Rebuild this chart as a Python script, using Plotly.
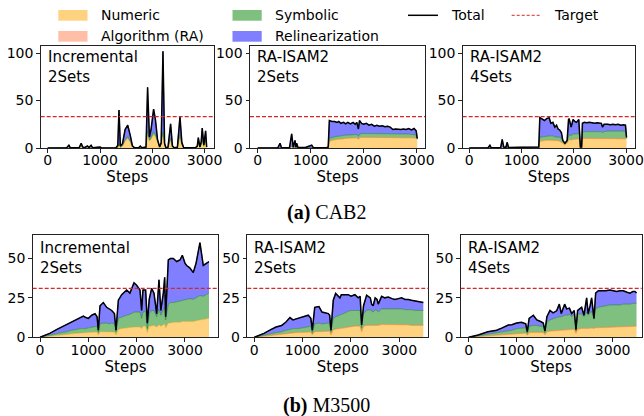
import plotly.graph_objects as go

W, H = 644, 416

# ---------------- CAB2 : Incremental 2Sets ----------------
cab2_inc_steps = [0, 350, 385, 405, 430, 600, 640, 670, 700, 760, 790, 830, 860, 1000, 1030,
                  1300, 1340, 1363, 1390, 1430, 1480, 1530, 1580, 1620, 1660, 1740, 1770, 1800,
                  1880, 1910, 1945, 1975, 2025, 2060, 2100, 2140, 2170, 2204, 2235, 2260, 2300,
                  2350, 2385, 2420, 2480, 2529, 2565, 2600, 2820, 2860, 2880, 2910, 2935, 2955,
                  2985, 3020, 3040]
cab2_inc_numeric = [0, 0, 0.5, 1, 0, 0, 1.5, 0.5, 0, 0.8, 0, 1, 0, 0.3, 0,
                    0, 0.5, 4, 0.5, 2, 7, 10, 6, 1, 0, 0, 0.8, 0,
                    0.5, 15, 7, 9, 14, 12, 6, 0.5, 4, 15, 3, 0, 0.3,
                    9, 1, 0, 0.3, 12, 3, 0, 0, 0.8, 5, 0.5, 3, 8,
                    1.5, 7, 0.5]
cab2_inc_symbolic = [0, 0, 0, 0.3, 0, 0, 0.5, 0, 0, 0.2, 0, 0.3, 0, 0, 0,
                     0, 0.2, 1, 0.2, 0.5, 1.5, 2, 1, 0.3, 0, 0, 0.2, 0,
                     0, 3, 1.5, 2, 3, 2, 1, 0.2, 0.5, 2, 0.5, 0, 0,
                     1, 0.2, 0, 0, 2, 0.5, 0, 0, 0.2, 0.5, 0, 0.5, 1,
                     0.3, 1, 0]
cab2_inc_relin = [0, 0, 1, 2, 0.3, 0.2, 3, 0.5, 0.3, 1.2, 0.4, 1.5, 0.2, 0.8, 0,
                  0, 2, 35, 1.5, 2, 11, 12, 6, 1, 0.3, 0.3, 1, 0.2,
                  0.5, 46, 3, 8, 24, 16, 2, 0.5, 1, 85, 1.5, 0.3, 0.5,
                  15.5, 1, 0.2, 0.5, 19, 2.5, 0.3, 0.3, 1, 5.5, 0.8, 3, 12,
                  1.5, 10, 0.5]

# ---------------- CAB2 : RA-ISAM2 2Sets ----------------
cab2_ra2_steps = [0, 380, 421, 450, 600, 641, 670, 704, 720, 735, 760, 900, 1019, 1050, 1300,
                  1330, 1352, 1400, 1450, 1500, 1530, 1570, 1620, 1660, 1700, 1750, 1800, 1840,
                  1870, 1900, 1920, 1960, 2000, 2050, 2100, 2150, 2200, 2250, 2300, 2350, 2400,
                  2450, 2500, 2550, 2600, 2650, 2700, 2750, 2800, 2850, 2900, 2950, 2990, 3010]
cab2_ra2_numeric = [0, 0, 0.5, 0, 0, 1.5, 0.2, 1, 0.2, 0.5, 0, 0, 0.5, 0, 0,
                    0.2, 7, 8, 8.5, 9, 9, 9.5, 9.5, 10, 10, 10, 10.5, 10.5,
                    10.5, 9, 10.5, 11, 11, 11, 11, 11, 11, 11, 11, 11, 11,
                    11, 11, 10.5, 10.5, 10.5, 10.5, 10.5, 10.5, 10.5, 10.5, 10.5, 10, 9.5]
cab2_ra2_algorithm = [0, 0, 0, 0, 0, 0.3, 0, 0, 0, 0, 0, 0, 0, 0, 0,
                      0, 0.3, 0.3, 0.3, 0.3, 0.3, 0.3, 0.3, 0.3, 0.3, 0.3, 0.3, 0.3,
                      0.3, 0.3, 0.3, 0.3, 0.3, 0.3, 0.3, 0.3, 0.3, 0.3, 0.3, 0.3, 0.3,
                      0.3, 0.3, 0.3, 0.3, 0.3, 0.3, 0.3, 0.3, 0.3, 0.3, 0.3, 0.3, 0.3]
cab2_ra2_symbolic = [0, 0, 0.2, 0, 0, 0.5, 0, 0.3, 0, 0.2, 0, 0, 0, 0, 0,
                     0, 3, 3, 3, 3, 3, 3, 3.5, 3.5, 3.5, 3.5, 3.5, 3.5,
                     3.5, 3, 3.5, 4, 4, 4, 4, 4, 4, 4, 4, 4, 4,
                     4, 4, 4, 4, 4, 4, 4, 4, 4, 3.5, 3.5, 3.5, 0]
cab2_ra2_relin = [0, 0.3, 4.3, 0.3, 0.3, 12.7, 0.8, 6.7, 0.8, 4.3, 0.5, 0.5, 2.5, 0.3, 0.3,
                  0.8, 18.7, 16.7, 16.2, 14.7, 15.7, 13.2, 13.7, 11.7, 13.2, 11.7, 12.7, 10.7,
                  12.7, 7.7, 14.7, 10.7, 9.7, 10.7, 8.7, 9.7, 7.7, 8.7, 7.7, 8.2, 7.2,
                  7.7, 6.7, 4.7, 5.2, 4.7, 4.7, 5.2, 4.7, 5.7, 4.7, 6.2, 4.2, 0.2]

# ---------------- CAB2 : RA-ISAM2 4Sets ----------------
cab2_ra4_steps = [0, 360, 395, 420, 600, 630, 660, 700, 726, 750, 1000, 1300, 1330, 1350, 1400,
                  1440, 1480, 1529, 1560, 1600, 1637, 1670, 1700, 1730, 1764, 1790, 1830, 1873,
                  1900, 1911, 1950, 1987, 2020, 2051, 2096, 2115, 2127, 2150, 2166, 2200, 2250,
                  2300, 2350, 2400, 2450, 2500, 2529, 2550, 2580, 2650, 2700, 2750, 2800, 2850,
                  2900, 2950, 2990, 3010]
cab2_ra4_numeric = [0, 0, 0.3, 0, 0, 1, 0.2, 0, 0.5, 0, 0, 0, 0.2, 7, 7.5,
                    8, 8, 8, 8, 8, 7.5, 7.5, 7.5, 7, 6, 5, 3.5, 5,
                    9, 9, 8, 9, 9, 9, 9.5, 8, 0.5, 0.5, 9.5, 10, 10,
                    10, 10, 10, 10, 10, 10, 9.5, 10, 10, 10, 10, 10, 10,
                    10, 10, 10, 9.5]
cab2_ra4_algorithm = [0, 0, 0, 0, 0, 0.3, 0, 0, 0, 0, 0, 0, 0, 0.3, 0.3,
                      0.3, 0.3, 0.3, 0.3, 0.3, 0.3, 0.3, 0.3, 0.3, 0.3, 0.3, 0.3, 0.3,
                      0.3, 0.3, 0.3, 0.3, 0.3, 0.3, 0.3, 0.3, 0, 0, 0.3, 0.3, 0.3,
                      0.3, 0.3, 0.3, 0.3, 0.3, 0.3, 0.3, 0.3, 0.3, 0.3, 0.3, 0.3, 0.3,
                      0.3, 0.3, 0.3, 0.3]
cab2_ra4_symbolic = [0, 0, 0, 0, 0, 0.5, 0, 0, 0.3, 0, 0, 0, 0, 4, 4,
                     4, 4.5, 4.5, 4.5, 4.5, 4, 4, 4, 4, 3.5, 2, 1, 2,
                     5, 5, 4.5, 5.5, 5.5, 5.5, 5.5, 3, 0.2, 0.2, 6.5, 7, 7,
                     7, 7, 7, 7, 7, 7, 6.5, 7, 7.5, 7.5, 7.5, 7.5, 7.5,
                     7.5, 7.5, 7.5, 1]
cab2_ra4_relin = [0, 0.3, 2.7, 0.3, 0.3, 7.2, 0.8, 0.5, 5.2, 0.5, 0.8, 0.3, 0.8, 20.7, 18.2,
                  16.7, 18.2, 19.2, 13.2, 14.2, 10.2, 12.2, 8.2, 7.7, 6.2, 0.7, 0.2, 0.7,
                  15.7, 16.7, 9.2, 15.2, 13.2, 12.2, 14.7, 3.7, 0.3, 0.3, 9.7, 9.7, 9.2,
                  9.7, 9.2, 8.7, 9.2, 8.7, 8.7, 5.7, 7.7, 7.2, 6.7, 7.2, 6.7, 7.2,
                  6.2, 6.7, 6.2, 0.2]

# ---------------- M3500 : Incremental 2Sets ----------------
m3500_inc_steps = [0, 200, 350, 450, 552, 650, 759, 820, 897, 950, 1000, 1069, 1138, 1180, 1207,
                   1241, 1310, 1379, 1430, 1483, 1540, 1572, 1621, 1690, 1793, 1860, 1945, 2000,
                   2069, 2103, 2130, 2186, 2221, 2260, 2310, 2359, 2414, 2462, 2500, 2552, 2580,
                   2600, 2655, 2700, 2759, 2828, 2897, 2945, 3000, 3034, 3100, 3172, 3230, 3310,
                   3379, 3448, 3497]
m3500_inc_numeric = [0, 0.5, 1, 1.3, 1.8, 2.2, 2.5, 2.8, 3, 3, 3, 3.2, 3.3, 3.3, 1.5,
                     3.5, 3.5, 3.5, 3.5, 3.5, 3.3, 1.5, 5, 5.5, 6, 6, 6.5, 6.5,
                     6.5, 5.5, 7, 7, 3, 7, 7.5, 7.5, 6.5, 8, 7, 8, 8.5,
                     6, 9, 9, 9.5, 9.5, 9.5, 10, 10, 10, 10, 10, 10.5, 11,
                     11, 11.5, 12]
m3500_inc_symbolic = [0, 1, 1.5, 1.7, 1.7, 2.3, 2.5, 2.7, 2.5, 2.5, 3, 3.3, 3.7, 3.7, 1.5,
                      5, 5.5, 5.5, 5, 5.5, 5.2, 2, 7, 7.5, 8, 8.5, 9.5, 9.5,
                      9.5, 6.5, 9, 9.5, 2.5, 8, 9.5, 9.5, 6.5, 10, 7, 9.5, 10.5,
                      5, 12, 13, 12.5, 13, 13.5, 13.5, 13.5, 14, 14.5, 14, 14.5, 15.5,
                      15, 15.5, 16]
m3500_inc_relin = [0, 1, 2.5, 3.5, 4.5, 5.5, 6.5, 7, 8, 7, 6, 7.5, 8, 6, 1.5,
                   11.5, 13, 10, 9.5, 8, 6.5, 1, 11.5, 14, 16, 13.5, 18.5, 17,
                   14, 5, 14, 13.5, 3.5, 9, 14, 11, 2, 18.5, 3, 10.5, 19,
                   2, 28, 28, 28, 25.5, 26, 28.5, 23.5, 21.5, 19.5, 17, 22, 33.5,
                   19.5, 20, 20]

# ---------------- M3500 : RA-ISAM2 2Sets ----------------
m3500_ra2_steps = [0, 200, 350, 450, 565, 650, 738, 800, 900, 1000, 1117, 1170, 1200, 1250, 1338,
                   1400, 1531, 1560, 1586, 1634, 1683, 1772, 1800, 1880, 1945, 2000, 2082, 2150,
                   2190, 2220, 2260, 2324, 2400, 2428, 2460, 2500, 2540, 2565, 2634, 2700, 2772,
                   2850, 2910, 2980, 3048, 3120, 3186, 3250, 3324, 3400, 3497]
m3500_ra2_numeric = [0, 0.5, 1, 1.3, 1.8, 2.2, 2.5, 2.8, 3, 3, 3.3, 3.3, 1.5, 3.5, 3.5,
                     3.5, 3.8, 3.8, 1.5, 4.8, 5, 5.5, 5.8, 6, 6.5, 6.5, 7, 7,
                     7, 3.5, 7, 7.5, 7.5, 7.5, 7.5, 7.5, 7.5, 7.5, 8, 8, 8,
                     8, 8, 8, 7.8, 7.8, 7.8, 7.5, 7.5, 7.5, 7.5]
m3500_ra2_algorithm = [0, 0.2, 0.2, 0.2, 0.2, 0.2, 0.2, 0.2, 0.2, 0.2, 0.2, 0.2, 0.2, 0.2, 0.2,
                       0.2, 0.2, 0.2, 0.2, 0.2, 0.2, 0.2, 0.2, 0.2, 0.2, 0.2, 0.2, 0.2,
                       0.2, 0.2, 0.2, 0.2, 0.2, 0.2, 0.2, 0.2, 0.2, 0.2, 0.2, 0.2, 0.2,
                       0.2, 0.2, 0.2, 0.2, 0.2, 0.2, 0.2, 0.2, 0.2, 0.2]
m3500_ra2_symbolic = [0, 0.8, 1.3, 1.5, 1.5, 2.1, 2.3, 2.5, 2.3, 2.8, 3.5, 3.5, 1.3, 4.8, 5.3,
                      4.8, 5, 4.5, 1.8, 7, 7.8, 8.3, 8.5, 9.3, 9.8, 10.3, 9.8, 9.8,
                      9.8, 2.3, 7.8, 9.3, 9.8, 8.8, 8.3, 9.8, 9.3, 8.3, 9.8, 9.8, 9.8,
                      9.8, 9.8, 9.8, 10, 9.5, 9.5, 9.8, 9.3, 9.3, 9.3]
m3500_ra2_relin = [0, 1, 2.5, 3.5, 4, 5, 7.5, 5.5, 6.5, 7, 7, 5, 1.5, 10.5, 10.5,
                   7.5, 6, 5.5, 1, 11.5, 14.8, 11, 12.5, 11.5, 10.5, 9, 10, 8,
                   9, 1.8, 5, 9.7, 7.5, 4.5, 4, 7.5, 7, 5, 8, 7, 7.5,
                   6.5, 6, 6.5, 7, 6.5, 6.5, 6, 6, 5.5, 5]

# ---------------- M3500 : RA-ISAM2 4Sets ----------------
m3500_ra4_steps = [0, 200, 400, 583, 700, 826, 900, 1000, 1100, 1190, 1222, 1260, 1347, 1420, 1500,
                   1555, 1590, 1630, 1694, 1760, 1833, 1889, 1930, 2000, 2042, 2100, 2146, 2200,
                   2236, 2270, 2354, 2403, 2458, 2490, 2530, 2562, 2611, 2646, 2701, 2780, 2850,
                   2944, 3020, 3083, 3150, 3222, 3300, 3361, 3420, 3465, 3497]
m3500_ra4_numeric = [0, 0.3, 0.8, 1.2, 1.5, 1.8, 2, 2.5, 2.6, 2.6, 1.2, 2.8, 3, 3, 3,
                     3, 1.5, 3.5, 3.8, 4, 4.2, 4.3, 4.3, 4.5, 4.5, 4.8, 4.8, 5,
                     2.5, 5, 5.5, 5.3, 5.5, 5.5, 5.8, 5.8, 5.5, 6, 6, 6, 6.2,
                     6.3, 6.3, 6.5, 6.5, 6.5, 6.5, 6.5, 6.8, 7, 7]
m3500_ra4_algorithm = [0, 0.2, 0.2, 0.2, 0.2, 0.2, 0.2, 0.2, 0.2, 0.2, 0.2, 0.2, 0.2, 0.2, 0.2,
                       0.2, 0.2, 0.2, 0.2, 0.2, 0.2, 0.2, 0.2, 0.2, 0.2, 0.2, 0.2, 0.2,
                       0.2, 0.2, 0.2, 0.2, 0.2, 0.2, 0.2, 0.2, 0.2, 0.2, 0.2, 0.2, 0.2,
                       0.2, 0.2, 0.2, 0.2, 0.2, 0.2, 0.2, 0.2, 0.2, 0.2]
m3500_ra4_symbolic = [0, 0.5, 1, 1.1, 1.8, 2, 2.3, 2.8, 3.2, 3.2, 1.1, 4, 4.3, 4.3, 3.8,
                      3.8, 1.3, 5.8, 7, 7.3, 8.1, 8.5, 8.5, 9.3, 9.3, 9.5, 8, 9.3,
                      1.3, 9.3, 9.3, 7.5, 10.3, 8.3, 9.5, 10.5, 5.8, 11.8, 12.8, 13.3, 13.6,
                      14, 14, 13.8, 13.8, 14.3, 14.3, 14.3, 14.5, 14.3, 14.3]
m3500_ra4_relin = [0, 0.5, 1.5, 2, 2.5, 3.8, 3.5, 3.5, 3.5, 2.5, 1.1, 5, 6.5, 3.5, 3,
                   2, 1, 3.5, 6, 4, 4.3, 8, 2, 7, 4, 4, 2, 2.5,
                   1, 2.5, 4, 1, 9, 1, 4.5, 8.5, 0.5, 10, 10.5, 10, 9.5,
                   9.5, 9, 8.5, 9, 8.5, 7.5, 7, 7.5, 7.5, 6.5]

cab2_target = 33
m3500_target = 31

panel_labels = ["Incremental<br>2Sets", "RA-ISAM2<br>2Sets", "RA-ISAM2<br>4Sets"]
x_ticks = [0, 1000, 2000, 3000]
cab2_y_ticks = [0, 50, 100]
m3500_y_ticks = [0, 25, 50]
captions = ["<b>(a)</b> CAB2", "<b>(b)</b> M3500"]

# ---------------- styling ----------------
COLORS = {
    "Numeric": (255, 165, 0),
    "Algorithm (RA)": (255, 127, 80),
    "Symbolic": (0, 128, 0),
    "Relinearization": (0, 0, 255),
}
FONT = "DejaVu Sans"
TARGET_COLOR = "#d62728"


def rgba(c, a):
    return "rgba(%d,%d,%d,%s)" % (c[0], c[1], c[2], a)


def px2x(px):
    return px / W


def px2y(py):
    return 1 - py / H


panels = [
    dict(steps=cab2_inc_steps, series=[("Numeric", cab2_inc_numeric), ("Symbolic", cab2_inc_symbolic),
                                        ("Relinearization", cab2_inc_relin)],
         target=cab2_target, label=panel_labels[0], xdom=(40.7, 214), ydom=(46, 148),
         xr=(-134, 3180), yr=(0, 107.5), yt=cab2_y_ticks),
    dict(steps=cab2_ra2_steps, series=[("Numeric", cab2_ra2_numeric), ("Algorithm (RA)", cab2_ra2_algorithm),
                                        ("Symbolic", cab2_ra2_symbolic), ("Relinearization", cab2_ra2_relin)],
         target=cab2_target, label=panel_labels[1], xdom=(250, 425), ydom=(46, 148),
         xr=(-145, 3156), yr=(0, 107.5), yt=cab2_y_ticks),
    dict(steps=cab2_ra4_steps, series=[("Numeric", cab2_ra4_numeric), ("Algorithm (RA)", cab2_ra4_algorithm),
                                        ("Symbolic", cab2_ra4_symbolic), ("Relinearization", cab2_ra4_relin)],
         target=cab2_target, label=panel_labels[2], xdom=(462.7, 635), ydom=(46, 148),
         xr=(-126, 3172), yr=(0, 107.5), yt=cab2_y_ticks),
    dict(steps=m3500_inc_steps, series=[("Numeric", m3500_inc_numeric), ("Symbolic", m3500_inc_symbolic),
                                         ("Relinearization", m3500_inc_relin)],
         target=m3500_target, label=panel_labels[0], xdom=(32.7, 218.3), ydom=(234.7, 337.3),
         xr=(-152, 3690), yr=(0, 65), yt=m3500_y_ticks),
    dict(steps=m3500_ra2_steps, series=[("Numeric", m3500_ra2_numeric), ("Algorithm (RA)", m3500_ra2_algorithm),
                                         ("Symbolic", m3500_ra2_symbolic), ("Relinearization", m3500_ra2_relin)],
         target=m3500_target, label=panel_labels[1], xdom=(247.3, 428.3), ydom=(234.7, 337.3),
         xr=(-145, 3600), yr=(0, 65), yt=m3500_y_ticks),
    dict(steps=m3500_ra4_steps, series=[("Numeric", m3500_ra4_numeric), ("Algorithm (RA)", m3500_ra4_algorithm),
                                         ("Symbolic", m3500_ra4_symbolic), ("Relinearization", m3500_ra4_relin)],
         target=m3500_target, label=panel_labels[2], xdom=(460.7, 641.7), ydom=(234.7, 337.3),
         xr=(-165, 3605), yr=(0, 65), yt=m3500_y_ticks),
]

fig = go.Figure()
layout = dict(
    width=W, height=H, margin=dict(l=0, r=0, t=0, b=0, autoexpand=False),
    paper_bgcolor="white", plot_bgcolor="white", showlegend=False,
    font=dict(family=FONT, size=14, color="black"),
)
shapes = []
annotations = []

for i, p in enumerate(panels):
    n = i + 1
    xa = "x" if n == 1 else "x%d" % n
    ya = "y" if n == 1 else "y%d" % n
    for name, vals in p["series"]:
        assert len(vals) == len(p["steps"]), (i, name)
        c = COLORS[name]
        fig.add_trace(go.Scatter(
            x=p["steps"], y=vals, name=name, mode="lines", stackgroup="s%d" % n,
            line=dict(color=rgba(c, 0.55), width=0.8), fillcolor=rgba(c, 0.5),
            xaxis=xa, yaxis=ya, hoverinfo="skip"))
    total = [sum(v[k] for _, v in p["series"]) for k in range(len(p["steps"]))]
    fig.add_trace(go.Scatter(x=p["steps"], y=total, name="Total", mode="lines",
                             line=dict(color="black", width=1.5), xaxis=xa, yaxis=ya))
    axis_common = dict(showline=True, mirror=True, linecolor="#222", linewidth=1,
                       ticks="outside", ticklen=3.5, tickwidth=0.8, tickcolor="#222",
                       showgrid=False, zeroline=False, automargin=False,
                       tickfont=dict(size=14, family=FONT))
    layout["xaxis" if n == 1 else "xaxis%d" % n] = dict(
        domain=[px2x(p["xdom"][0]), px2x(p["xdom"][1])], range=list(p["xr"]),
        tickvals=x_ticks, anchor=ya, ticklabelstandoff=-4,
        title=dict(text="Steps", font=dict(size=15, family=FONT), standoff=0), **axis_common)
    layout["yaxis" if n == 1 else "yaxis%d" % n] = dict(
        domain=[px2y(p["ydom"][1]), px2y(p["ydom"][0])], range=list(p["yr"]),
        tickvals=p["yt"], anchor=xa, **axis_common)
    shapes.append(dict(type="line", xref="%s domain" % xa, yref=ya, x0=0, x1=1,
                       y0=p["target"], y1=p["target"],
                       line=dict(color=TARGET_COLOR, width=1.2, dash="4px,2px")))
    annotations.append(dict(xref="paper", yref="paper", x=px2x(p["xdom"][0] + 5),
                            y=px2y(p["ydom"][0] + (0 if i < 3 else 2.5)),
                            xanchor="left", yanchor="top", align="left", showarrow=False,
                            text=p["label"], font=dict(size=15, family=FONT)))

# ---------------- legend (drawn manually, 4 columns) ----------------
legend_patches = [("Numeric", 58.3, 10, 20.7), ("Algorithm (RA)", 58.3, 31, 41.7),
                  ("Symbolic", 232.5, 10, 20.7), ("Relinearization", 232.5, 31, 41.7)]
for name, x0, y0, y1 in legend_patches:
    shapes.append(dict(type="rect", xref="paper", yref="paper", x0=px2x(x0), x1=px2x(x0 + 29.2),
                       y0=px2y(y1), y1=px2y(y0), fillcolor=rgba(COLORS[name], 0.5),
                       line=dict(width=0)))
    annotations.append(dict(xref="paper", yref="paper", x=px2x(x0 + 40.9), y=px2y((y0 + y1) / 2),
                            xanchor="left", yanchor="middle", showarrow=False, text=name,
                            font=dict(size=14, family=FONT)))
shapes.append(dict(type="line", xref="paper", yref="paper", x0=px2x(408), x1=px2x(438),
                   y0=px2y(15.3), y1=px2y(15.3), line=dict(color="black", width=1.5)))
annotations.append(dict(xref="paper", yref="paper", x=px2x(448.7), y=px2y(15.3), xanchor="left",
                        yanchor="middle", showarrow=False, text="Total", font=dict(size=14, family=FONT)))
shapes.append(dict(type="line", xref="paper", yref="paper", x0=px2x(511.7), x1=px2x(539.6),
                   y0=px2y(15.3), y1=px2y(15.3), line=dict(color=TARGET_COLOR, width=1, dash="3px,2px")))
annotations.append(dict(xref="paper", yref="paper", x=px2x(552), y=px2y(15.3), xanchor="left",
                        yanchor="middle", showarrow=False, text="Target", font=dict(size=14, family=FONT)))

# ---------------- captions ----------------
annotations.append(dict(xref="paper", yref="paper", x=px2x(326.5), y=px2y(213), xanchor="center",
                        yanchor="middle", showarrow=False, text=captions[0],
                        font=dict(size=20, family="Liberation Serif")))
annotations.append(dict(xref="paper", yref="paper", x=px2x(326), y=px2y(405), xanchor="center",
                        yanchor="middle", showarrow=False, text=captions[1],
                        font=dict(size=20, family="Liberation Serif")))

layout["shapes"] = shapes
layout["annotations"] = annotations
fig.update_layout(**layout)
fig.write_html("out.html", config={"displayModeBar": False},
               post_script="document.body.style.margin='0px';")
